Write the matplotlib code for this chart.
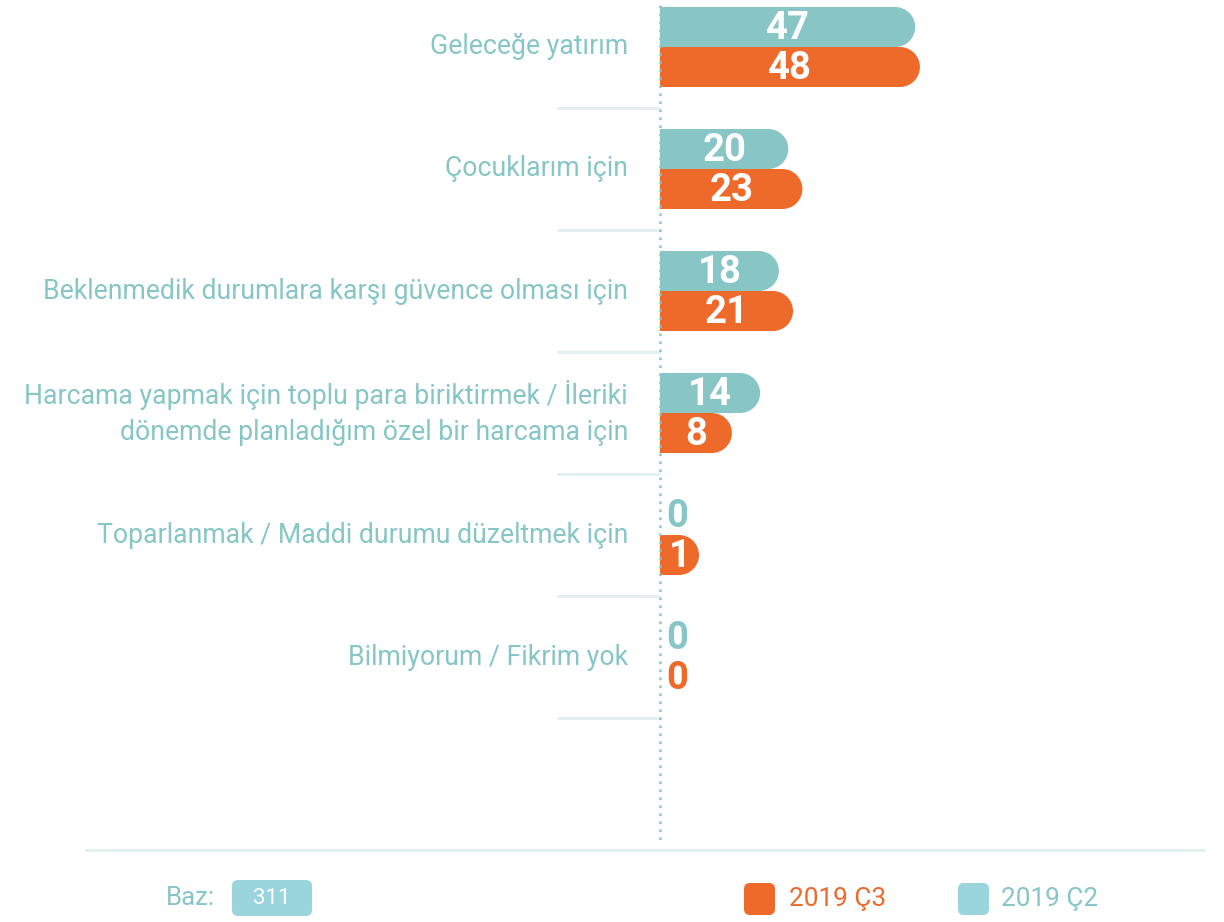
import matplotlib.pyplot as plt
from matplotlib.patches import Ellipse, FancyBboxPatch
from matplotlib.transforms import Bbox, TransformedBbox

categories = [
    "Geleceğe yatırım",
    "Çocuklarım için",
    "Beklenmedik durumlara karşı güvence olması için",
    "Harcama yapmak için toplu para biriktirmek / İleriki\ndönemde planladığım özel bir harcama için",
    "Toparlanmak / Maddi durumu düzeltmek için",
    "Bilmiyorum / Fikrim yok",
]
q2_values = [47, 20, 18, 14, 0, 0]   # 2019 Ç2
q3_values = [48, 23, 21, 8, 1, 0]    # 2019 Ç3
series_names = ["2019 Ç3", "2019 Ç2"]
base_n = 311

TEAL = "#88c6c6"
ORANGE = "#ee6a2a"
LABEL = "#86c6c6"
LIGHT = "#e4f0f0"
LEG_TEAL = "#9ad4dc"

W, H = 1224, 922
PX = 4.7          # pixels per value unit
CAP = 7.3         # rounded end adds this many units
X0, Y0, STEP = 660, 47, 122

plt.rcParams['font.family'] = ['Roboto', 'DejaVu Sans']
fig = plt.figure(figsize=(W / 100, H / 100), dpi=100)
ax = fig.add_axes([0, 0, 1, 1])
ax.set_xlim(-X0 / PX, (W - X0) / PX)
ax.set_ylim((H - Y0) / STEP, -Y0 / STEP)
ax.axis('off')

bar_h = 40 / STEP
r_x = 20 / PX
clip = TransformedBbox(Bbox([[0, -5], [500, 50]]), ax.transData)


def rounded_bar(y, v, color):
    total = v + CAP
    if v > 0:
        ax.barh(y, total - r_x, height=bar_h, left=0, color=color, linewidth=0)
        cap = Ellipse((total - r_x, y), 2 * r_x, bar_h, color=color, linewidth=0)
        ax.add_patch(cap)
        cap.set_clip_box(clip)
        ax.text(total / 2, y + 0.01, str(v), ha='center', va='center', color='white',
                fontsize=27.5, fontweight='bold')
    else:
        ax.text(total / 2, y + 0.01, str(v), ha='center', va='center', color=color,
                fontsize=27.5, fontweight='bold')


for i, cat in enumerate(categories):
    rounded_bar(i - 20 / STEP, q2_values[i], TEAL)
    rounded_bar(i + 20 / STEP, q3_values[i], ORANGE)
    ax.text(-32 / PX, i, cat, ha='right', va='center', color=LABEL,
            fontsize=19.2, linespacing=1.45)
    ax.plot([-103 / PX, 0], [i + 0.5, i + 0.5], color=LIGHT, lw=2.2,
            solid_capstyle='butt', zorder=0)

# dotted axis line
ax.plot([0, 0], [(5 - Y0) / STEP, (845 - Y0) / STEP], color=TEAL, lw=1.8,
        linestyle=(0, (1, 2.2)), zorder=3)

# bottom rule
ax.plot([(85 - X0) / PX, (1205 - X0) / PX], [(850 - Y0) / STEP] * 2,
        color=LIGHT, lw=2.2, solid_capstyle='butt')

asp = W / H


def fig_box(x, y, w, h, color):
    p = FancyBboxPatch((x / W, 1 - (y + h) / H), w / W, h / H,
                       boxstyle="round,pad=0,rounding_size=%f" % (6 / W),
                       mutation_aspect=asp, transform=fig.transFigure,
                       facecolor=color, edgecolor='none')
    fig.patches.append(p)


fig.text(166 / W, 1 - 898 / H, "Baz:", ha='left', va='center', color=LABEL, fontsize=18.5)
fig_box(232, 880, 80, 36, LEG_TEAL)
fig.text(272 / W, 1 - 898 / H, str(base_n), ha='center', va='center', color='white', fontsize=16)

fig_box(744, 883, 31, 32, ORANGE)
fig.text(789 / W, 1 - 899 / H, series_names[0], ha='left', va='center', color=ORANGE, fontsize=18.8)
fig_box(958, 883, 31, 32, LEG_TEAL)
fig.text(1001 / W, 1 - 899 / H, series_names[1], ha='left', va='center', color=LABEL, fontsize=18.8)

fig.savefig("out.png", dpi=100, facecolor='white')
